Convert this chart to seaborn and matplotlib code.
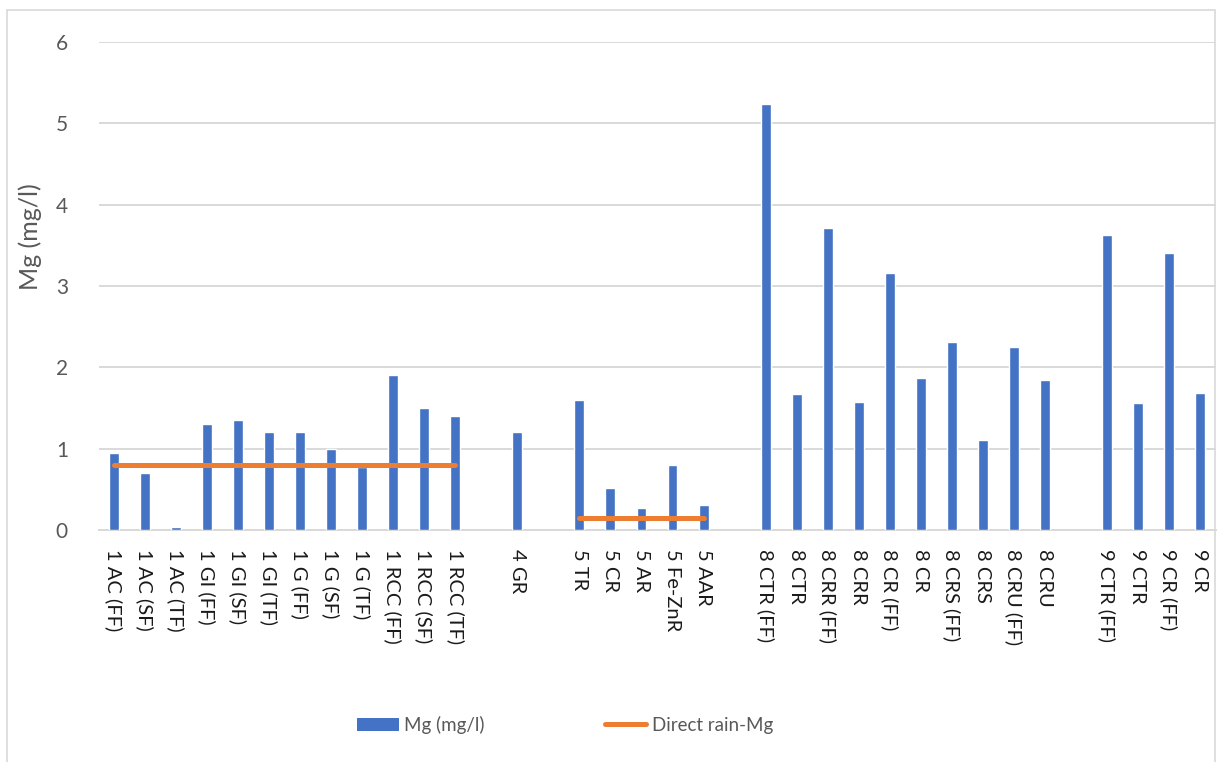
import matplotlib
matplotlib.use("Agg")
import matplotlib.pyplot as plt
from matplotlib.patches import Patch, Rectangle
from matplotlib.lines import Line2D
import seaborn as sns
import pandas as pd

# Sample sites, with blank spacer slots between the site groups
samples = [
    "1 AC (FF)", "1 AC (SF)", "1 AC (TF)", "1 GI (FF)", "1 GI (SF)", "1 GI (TF)",
    "1 G (FF)", "1 G (SF)", "1 G (TF)", "1 RCC (FF)", "1 RCC (SF)", "1 RCC (TF)",
    "4 GR",
    "5 TR", "5 CR", "5 AR", "5 Fe-ZnR", "5 AAR",
    "8 CTR (FF)", "8 CTR", "8 CRR (FF)", "8 CRR", "8 CR (FF)", "8 CR",
    "8 CRS (FF)", "8 CRS", "8 CRU (FF)", "8 CRU",
    "9 CTR (FF)", "9 CTR", "9 CR (FF)", "9 CR",
]
mg_values = [
    0.95, 0.70, 0.04, 1.30, 1.35, 1.20,
    1.20, 1.00, 0.78, 1.90, 1.50, 1.40,
    1.20,
    1.60, 0.52, 0.27, 0.80, 0.31,
    5.24, 1.67, 3.71, 1.57, 3.16, 1.87,
    2.31, 1.11, 2.25, 1.85,
    3.63, 1.56, 3.40, 1.69,
]

# Category order on the x axis (distinct blank names keep the gaps)
order = (samples[:12] + [" "] + samples[12:13] + ["  "] + samples[13:18]
         + ["   "] + samples[18:28] + ["    "] + samples[28:])

# Direct rain reference levels
rain_site1 = ["1 AC (FF)", "1 RCC (TF)"]
rain_site1_mg = [0.80, 0.80]
rain_site5 = ["5 TR", "5 AAR"]
rain_site5_mg = [0.15, 0.15]

BLUE = "#4472C4"
ORANGE = "#ED7D31"
GRID = "#D9D9D9"
TXT = "#595959"

sns.set_theme(style="white")
plt.rcParams["font.family"] = ["Lato", "DejaVu Sans"]

W, H = 1217, 762
fig = plt.figure(figsize=(W / 100, H / 100), dpi=100)
ax = fig.add_axes([98.5 / W, 232 / H, 1117 / W, 488 / H])

df = pd.DataFrame({"sample": samples, "mg": mg_values})
sns.barplot(data=df, x="sample", y="mg", order=order, color=BLUE,
            saturation=1, width=0.32, ax=ax)

for cats, vals in ((rain_site1, rain_site1_mg), (rain_site5, rain_site5_mg)):
    pos = [order.index(c) for c in cats]
    sns.lineplot(x=pos, y=vals, color=ORANGE, linewidth=3.6,
                 solid_capstyle="round", ax=ax, legend=False)

ax.set_ylim(0, 6)
ax.set_xlim(-0.5, len(order) - 0.5)
ax.set_yticks(range(0, 7))
ax.yaxis.grid(True, color=GRID, linewidth=1.4)
ax.set_axisbelow(True)
for s in ("top", "right", "left"):
    ax.spines[s].set_visible(False)
ax.spines["bottom"].set_color(GRID)
ax.spines["bottom"].set_linewidth(1.4)
ax.spines["bottom"].set_zorder(0.5)

ax.tick_params(axis="y", length=0, pad=22, labelsize=15, labelcolor=TXT)
ax.tick_params(axis="x", length=0, pad=14, labelsize=14.5, labelcolor="#1a1a1a",
               labelrotation=-90)
for lab in ax.get_xticklabels():
    lab.set_verticalalignment("top")
    lab.set_horizontalalignment("center")

ax.set_xlabel("")
ax.set_ylabel("Mg (mg/l)", fontsize=18, color=TXT)
ax.yaxis.set_label_coords((42 - 98.5) / 1117, (530 - 237) / 488)

handles = [
    Patch(facecolor=BLUE, edgecolor="none", label="Mg (mg/l)"),
    Line2D([], [], color=ORANGE, linewidth=3.6, solid_capstyle="round",
           label="Direct rain-Mg"),
]
fig.legend(handles=handles, loc="center", bbox_to_anchor=(565 / W, 1 - 725 / H),
           ncol=2, frameon=False, fontsize=13.5, handlelength=2.2,
           handleheight=0.7, handletextpad=0.3, columnspacing=6.4,
           labelcolor=TXT)

fig.patches.append(Rectangle((7 / W, -0.05), (1215 - 7) / W, 1.05 - 10 / H,
                             transform=fig.transFigure, fill=False,
                             edgecolor=GRID, linewidth=1.2))

fig.savefig("out.png", dpi=100)
